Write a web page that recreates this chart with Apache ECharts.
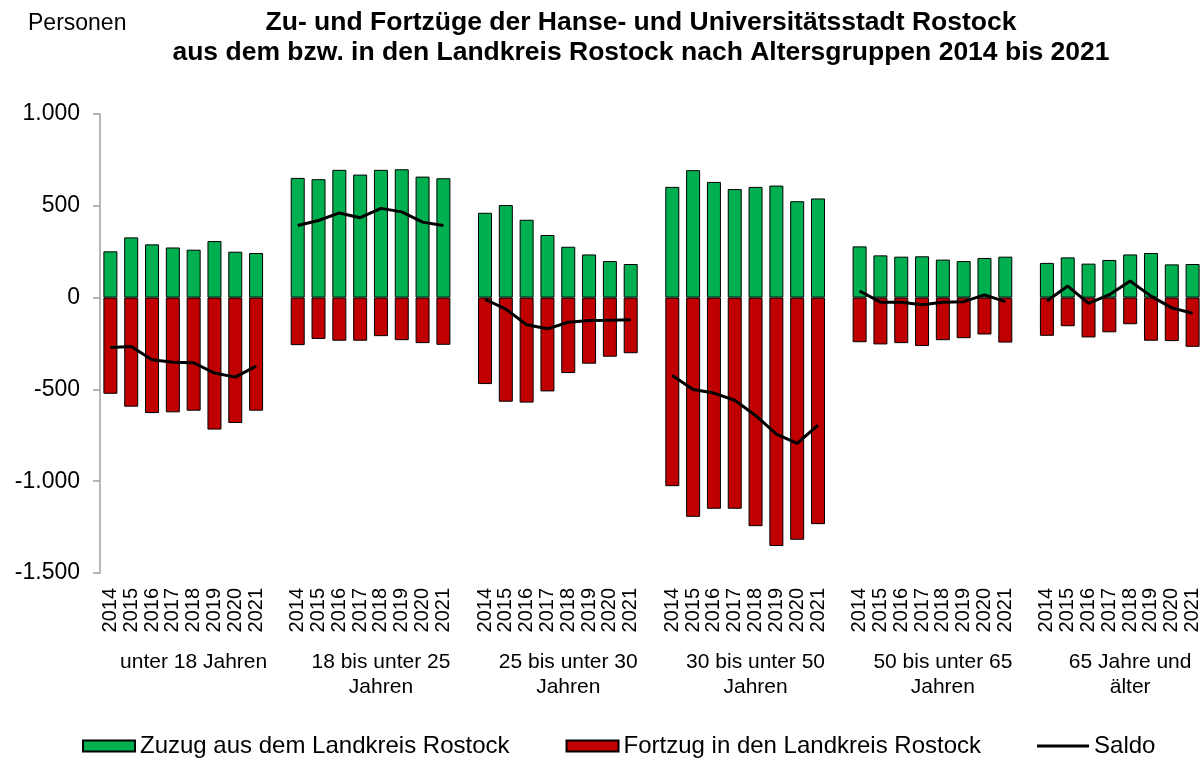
<!DOCTYPE html>
<html>
<head>
<meta charset="utf-8">
<script src="https://cdn.jsdelivr.net/npm/echarts@6/dist/echarts.min.js"></script>
<style>
    html, body { margin: 0; padding: 0; background: #fff; }
    #chart { width: 1203px; height: 758px; }
</style>
</head>
<body>
<div id="chart"></div>
<script>
// Data
const years = ['2014', '2015', '2016', '2017', '2018', '2019', '2020', '2021'];
const groups = [
    'unter 18 Jahren',
    '18 bis unter 25\nJahren',
    '25 bis unter 30\nJahren',
    '30 bis unter 50\nJahren',
    '50 bis unter 65\nJahren',
    '65 Jahre und\nälter'
];

// Zuzug aus dem Landkreis Rostock, one row per age group
const zuzug = [
    [252, 328, 290, 273, 261, 308, 250, 243],
    [652, 645, 696, 670, 696, 699, 659, 650],
    [462, 504, 424, 341, 277, 235, 199, 183],
    [603, 694, 630, 591, 603, 610, 525, 540],
    [279, 230, 223, 225, 207, 199, 216, 223],
    [189, 219, 185, 205, 235, 243, 181, 183]
];

// Fortzug in den Landkreis Rostock
const fortzug = [
    [-524, -594, -629, -625, -616, -719, -683, -616],
    [-259, -225, -235, -235, -210, -232, -248, -257],
    [-471, -567, -572, -511, -411, -360, -322, -303],
    [-1027, -1194, -1150, -1150, -1245, -1353, -1319, -1234],
    [-243, -255, -248, -264, -232, -221, -201, -245],
    [-208, -156, -217, -189, -145, -235, -237, -268]
];

// Saldo
const saldo = [
    [-272, -266, -339, -352, -355, -411, -433, -373],
    [393, 420, 461, 435, 486, 467, 411, 393],
    [-9, -63, -148, -170, -134, -125, -123, -120],
    [-424, -500, -520, -559, -642, -743, -794, -694],
    [36, -25, -25, -39, -25, -22, 15, -22],
    [-19, 63, -32, 16, 90, 8, -56, -85]
];

const yTicks = { min: -1500, max: 1000, interval: 500 };

// Build a flat category axis with one empty slot between groups
function flatten(rows) {
    const out = [];
    rows.forEach((row, i) => {
        if (i > 0) out.push(null);
        row.forEach(v => out.push(v));
    });
    return out;
}

const yearCats = [];
const groupCats = [];
groups.forEach((g, i) => {
    if (i > 0) {
        yearCats.push('');
        groupCats.push('');
    }
    years.forEach((y, j) => {
        yearCats.push(y);
        groupCats.push(j === 4 ? g : '');
    });
});

const FONT = 'Liberation Sans, Arial, sans-serif';

function formatDe(v) {
    const s = Math.abs(v).toString().replace(/\B(?=(\d{3})+(?!\d))/g, '.');
    return (v < 0 ? '-' : '') + s;
}

const chart = echarts.init(document.getElementById('chart'));

const option = {
    backgroundColor: '#ffffff',
    animation: false,
    textStyle: { fontFamily: FONT, color: '#000' },
    graphic: [
        {
            type: 'text',
            left: 28,
            top: 12,
            style: { text: 'Personen', font: '23px ' + FONT, fill: '#000' }
        },
        {
            type: 'text',
            x: 641,
            y: 8,
            style: {
                text: 'Zu- und Fortzüge der Hanse- und Universitätsstadt Rostock\naus dem bzw. in den Landkreis Rostock nach Altersgruppen 2014 bis 2021',
                font: 'bold 26.5px ' + FONT,
                fill: '#000',
                align: 'center',
                lineHeight: 30
            }
        }
    ],
    legend: {
        left: 77,
        top: 729,
        itemWidth: 52,
        itemHeight: 11,
        itemGap: 56,
        textStyle: { fontSize: 24, fontFamily: FONT, color: '#000' },
        data: [
            { name: 'Zuzug aus dem Landkreis Rostock', icon: 'rect' },
            { name: 'Fortzug in den Landkreis Rostock', icon: 'rect' },
            { name: 'Saldo', icon: 'path://M0,0H56V3H0Z', itemStyle: { color: '#000', borderWidth: 0 } }
        ]
    },
    grid: {
        left: 100,
        top: 114,
        width: 1104,
        height: 459
    },
    xAxis: [
        {
            type: 'category',
            data: yearCats,
            axisLine: { show: false },
            axisTick: { show: false },
            axisLabel: {
                interval: 0,
                rotate: 90,
                margin: 15,
                fontSize: 20,
                fontFamily: FONT,
                color: '#000'
            }
        },
        {
            type: 'category',
            data: groupCats,
            position: 'bottom',
            axisLine: { show: false },
            axisTick: { show: false },
            axisLabel: {
                interval: 0,
                margin: 77,
                fontSize: 21,
                lineHeight: 25,
                fontFamily: FONT,
                color: '#000',
                align: 'center'
            }
        }
    ],
    yAxis: {
        type: 'value',
        min: yTicks.min,
        max: yTicks.max,
        interval: yTicks.interval,
        splitLine: { show: false },
        axisLine: { show: true, lineStyle: { color: '#a0a0a0', width: 1.5 } },
        axisTick: { show: true, length: 7, lineStyle: { color: '#a0a0a0', width: 1.5 } },
        axisLabel: {
            margin: 20,
            fontSize: 23,
            fontFamily: FONT,
            color: '#000',
            formatter: formatDe
        }
    },
    series: [
        {
            name: 'Zuzug aus dem Landkreis Rostock',
            type: 'bar',
            stack: 'total',
            barWidth: 14,
            data: flatten(zuzug),
            itemStyle: { color: '#00B050', borderColor: '#000', borderWidth: 1 }
        },
        {
            name: 'Fortzug in den Landkreis Rostock',
            type: 'bar',
            stack: 'total',
            barWidth: 14,
            data: flatten(fortzug),
            itemStyle: { color: '#C00000', borderColor: '#000', borderWidth: 1 }
        },
        {
            name: 'Saldo',
            type: 'line',
            data: flatten(saldo),
            symbol: 'none',
            connectNulls: false,
            z: 5,
            lineStyle: { color: '#000', width: 3 },
            itemStyle: { color: '#000' }
        }
    ]
};

chart.setOption(option);
</script>
</body>
</html>
